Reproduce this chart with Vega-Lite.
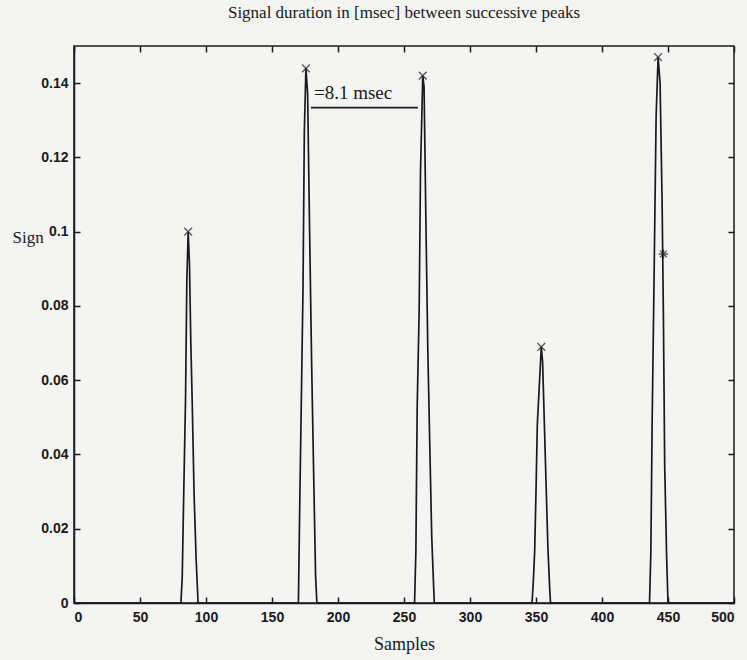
{
  "$schema": "https://vega.github.io/schema/vega-lite/v6.json",
  "width": 660,
  "height": 557,
  "autosize": {"type": "none"},
  "padding": {"left": 74, "top": 46, "right": 13, "bottom": 57},
  "background": "#f4f4f2",
  "title": {"text": "Signal duration in [msec] between successive peaks", "font": "Liberation Serif", "fontSize": 17, "fontWeight": "normal", "color": "#1a1a1a", "offset": 23, "anchor": "middle"},
  "config": {
    "view": {"stroke": "#1a1a1a", "strokeWidth": 1.5},
    "axis": {"grid": false, "domainColor": "#1a1a1a", "domainWidth": 1.5, "tickColor": "#1a1a1a", "tickWidth": 1.5, "tickSize": -6, "labelFont": "Liberation Sans", "labelFontSize": 14, "labelFontWeight": "bold", "labelColor": "#1a1a1a", "titleFont": "Liberation Serif", "titleFontSize": 18, "titleFontWeight": "normal", "titleColor": "#1a1a1a"}
  },
  "resolve": {"axis": {"x": "independent", "y": "independent"}},
  "datasets": {
    "signal": [
      {"s": 0, "v": 0}, {"s": 81, "v": 0}, {"s": 82, "v": 0.007}, {"s": 83, "v": 0.027}, {"s": 84.5, "v": 0.055}, {"s": 85.5, "v": 0.087}, {"s": 86.5, "v": 0.1}, {"s": 87.5, "v": 0.091}, {"s": 88.5, "v": 0.07}, {"s": 89.5, "v": 0.055}, {"s": 91, "v": 0.029}, {"s": 92.5, "v": 0.012}, {"s": 94, "v": 0},
      {"s": 170, "v": 0}, {"s": 171, "v": 0.026}, {"s": 172.5, "v": 0.061}, {"s": 173.5, "v": 0.085}, {"s": 174.5, "v": 0.127}, {"s": 175.7, "v": 0.144}, {"s": 177, "v": 0.137}, {"s": 178.5, "v": 0.1}, {"s": 180, "v": 0.065}, {"s": 181.5, "v": 0.036}, {"s": 183, "v": 0.0075}, {"s": 184, "v": 0},
      {"s": 258, "v": 0}, {"s": 259, "v": 0.014}, {"s": 260, "v": 0.053}, {"s": 261.5, "v": 0.079}, {"s": 262.5, "v": 0.116}, {"s": 264.2, "v": 0.142}, {"s": 265.2, "v": 0.139}, {"s": 266.5, "v": 0.105}, {"s": 268, "v": 0.069}, {"s": 269.5, "v": 0.043}, {"s": 271, "v": 0.018}, {"s": 272.5, "v": 0.004}, {"s": 273, "v": 0},
      {"s": 347, "v": 0}, {"s": 348, "v": 0.006}, {"s": 349, "v": 0.014}, {"s": 350, "v": 0.03}, {"s": 351, "v": 0.048}, {"s": 352, "v": 0.055}, {"s": 354, "v": 0.069}, {"s": 355, "v": 0.065}, {"s": 357, "v": 0.04}, {"s": 359, "v": 0.015}, {"s": 360.5, "v": 0.003}, {"s": 361, "v": 0},
      {"s": 436, "v": 0}, {"s": 437, "v": 0.0135}, {"s": 438, "v": 0.049}, {"s": 439.5, "v": 0.089}, {"s": 441, "v": 0.131}, {"s": 442.5, "v": 0.147}, {"s": 444, "v": 0.14}, {"s": 445.5, "v": 0.109}, {"s": 446.5, "v": 0.078}, {"s": 447.5, "v": 0.037}, {"s": 449, "v": 0.012}, {"s": 450, "v": 0},
      {"s": 500, "v": 0}
    ],
    "peaks": [
      {"s": 86.5, "v": 0.1}, {"s": 175.7, "v": 0.144}, {"s": 264.2, "v": 0.142}, {"s": 354, "v": 0.069}, {"s": 442.5, "v": 0.147}
    ],
    "star": [{"s": 446.5, "v": 0.094}],
    "span": [{"s1": 179.5, "s2": 260.5, "v": 0.1334, "label": "=8.1 msec"}]
  },
  "layer": [
    {
      "data": {"name": "signal"},
      "mark": {"type": "line", "color": "#1a1a1a", "strokeWidth": 1.7},
      "encoding": {
        "x": {"field": "s", "type": "quantitative", "scale": {"domain": [0, 500], "nice": false}, "axis": {"title": "Samples", "values": [0, 50, 100, 150, 200, 250, 300, 350, 400, 450, 500], "labelPadding": 13, "titlePadding": 11}},
        "y": {"field": "v", "type": "quantitative", "scale": {"domain": [0, 0.15], "nice": false}, "axis": {"title": "Sign", "values": [0, 0.02, 0.04, 0.06, 0.08, 0.1, 0.12, 0.14], "format": ".2~f", "labelPadding": 12, "titleAngle": 0, "titleAlign": "left", "titleBaseline": "middle", "titleFontSize": 17, "titleX": -62, "titleY": 191}}
      }
    },
    {
      "data": {"name": "peaks"},
      "mark": {"type": "point", "shape": "M-1,-1L1,1M-1,1L1,-1", "filled": false, "color": "#1a1a1a", "strokeWidth": 1.4, "size": 60},
      "encoding": {
        "x": {"field": "s", "type": "quantitative", "axis": {"orient": "top", "labels": false, "title": null, "values": [0, 50, 100, 150, 200, 250, 300, 350, 400, 450, 500], "domain": false}},
        "y": {"field": "v", "type": "quantitative", "axis": {"orient": "right", "labels": false, "title": null, "values": [0, 0.02, 0.04, 0.06, 0.08, 0.1, 0.12, 0.14], "domain": false}}
      }
    },
    {
      "data": {"name": "star"},
      "mark": {"type": "point", "shape": "M-1,0L1,0M0,-1L0,1M-0.7,-0.7L0.7,0.7M-0.7,0.7L0.7,-0.7", "filled": false, "color": "#1a1a1a", "strokeWidth": 1.4, "size": 90},
      "encoding": {
        "x": {"field": "s", "type": "quantitative", "axis": null},
        "y": {"field": "v", "type": "quantitative", "axis": null}
      }
    },
    {
      "data": {"name": "span"},
      "mark": {"type": "rule", "color": "#1a1a1a", "strokeWidth": 1.7},
      "encoding": {
        "x": {"field": "s1", "type": "quantitative", "axis": null},
        "x2": {"field": "s2"},
        "y": {"field": "v", "type": "quantitative", "axis": null}
      }
    },
    {
      "data": {"name": "span"},
      "mark": {"type": "text", "font": "Liberation Serif", "fontSize": 19, "color": "#1a1a1a", "align": "left", "baseline": "alphabetic", "dx": 3, "dy": -9},
      "encoding": {
        "x": {"field": "s1", "type": "quantitative", "axis": null},
        "y": {"field": "v", "type": "quantitative", "axis": null},
        "text": {"field": "label"}
      }
    }
  ]
}
